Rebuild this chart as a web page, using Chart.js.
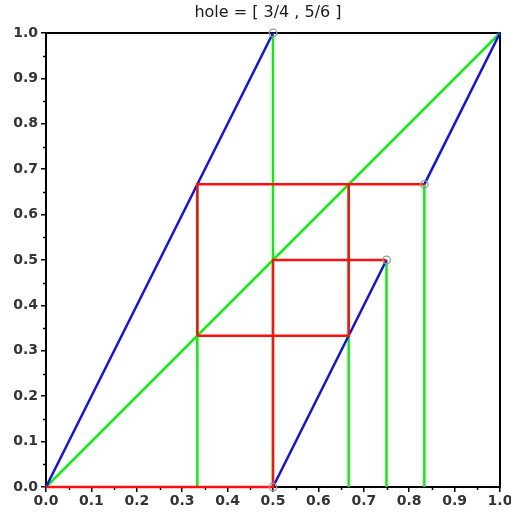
<!DOCTYPE html>
<html><head><meta charset="utf-8">
<script src="https://cdn.jsdelivr.net/npm/chart.js@4/dist/chart.umd.min.js"></script>
<style>html,body{margin:0;padding:0;background:#fff}#wrap{width:511px;height:515px}</style>
</head><body><div id="wrap"><canvas id="c" width="511" height="515"></canvas></div>
<script>
const titleText = 'hole = [ 3/4 , 5/6 ]';
const tickValues = [0,0.1,0.2,0.3,0.4,0.5,0.6,0.7,0.8,0.9,1.0];
const minorTickValues = [0.05,0.15,0.25,0.35,0.45,0.55,0.65,0.75,0.85,0.95];
// diagonal y = x
const diagX = [0, 1];
const diagY = [0, 1];
// map pieces (blue), null separates pieces
const mapX = [0, 0.5, null, 0.5, 0.75, null, 5/6, 1];
const mapY = [0, 1, null, 0, 0.5, null, 2/3, 1];
// green verticals
const vertX = [1/3, 1/2, 2/3, 3/4, 5/6];
const vertTop = [2/3, 1, 2/3, 1/2, 2/3];
// red orbit paths
const orbit1X = [0, 0.5, 0.5, 0.75];
const orbit1Y = [0, 0, 0.5, 0.5];
const orbit2X = [1/3, 1/3, 2/3, 2/3, 1/3, null, 2/3, 5/6];
const orbit2Y = [1/3, 2/3, 2/3, 1/3, 1/3, null, 2/3, 2/3];
// open endpoints
const holeX = [0.75, 5/6, 0.5, 0.5];
const holeY = [0.5, 2/3, 1, 0];

function pts(xs, ys){ return xs.map((x,i)=>({x: x===null?NaN:x, y: ys[i]===null?NaN:ys[i]})); }
const vertPts = [];
vertX.forEach((x,i)=>{ vertPts.push({x:x,y:0},{x:x,y:vertTop[i]},{x:NaN,y:NaN}); });

const lineDs = (data,color,order)=>({data, order, showLine:true, borderColor:color, backgroundColor:color, borderWidth:2.5, pointRadius:0, spanGaps:false, fill:false, clip:6});

const frame = {
  id:'frame',
  afterLayout(chart){
    const a = chart.chartArea, t = chart.titleBlock;
    if (t) { t.left = a.left - 10; t.right = a.right; }
  },
  beforeDatasetsDraw(chart){
    const ctx = chart.ctx, a = chart.chartArea;
    const xs = chart.scales.x, ys = chart.scales.y;
    ctx.save();
    ctx.strokeStyle = '#000';
    ctx.lineWidth = 1.5;
    ctx.beginPath();
    minorTickValues.forEach(v=>{
      const px = Math.round(xs.getPixelForValue(v))+0.5;
      ctx.moveTo(px, a.bottom); ctx.lineTo(px, a.bottom+3);
      const py = Math.round(ys.getPixelForValue(v))+0.5;
      ctx.moveTo(a.left, py); ctx.lineTo(a.left-3, py);
    });
    ctx.stroke();
    ctx.lineWidth = 2;
    ctx.strokeRect(a.left, a.top, a.right-a.left, a.bottom-a.top);
    ctx.restore();
  }
};

const tickFont = {family:'DejaVu Sans', size:14, weight:'bold'};
new Chart(document.getElementById('c'), {
  type:'scatter',
  data:{datasets:[
    {data: pts(holeX, holeY), order:0, showLine:false, pointRadius:3.8, pointBorderWidth:1.3, pointBorderColor:'#999', pointBackgroundColor:'rgba(255,255,255,0)', clip:6},
    lineDs(pts(orbit1X, orbit1Y), '#ff1010', 1),
    lineDs(pts(orbit2X, orbit2Y), '#ff1010', 2),
    lineDs(pts(mapX, mapY), '#1010f0', 3),
    lineDs(vertPts, '#10ee10', 4),
    lineDs(pts(diagX, diagY), '#10ee10', 5)
  ]},
  options:{
    responsive:false, animation:false, devicePixelRatio:1,
    layout:{padding:{left:0,right:11,top:0,bottom:0}},
    plugins:{
      legend:{display:false}, tooltip:{enabled:false},
      title:{display:true, text:titleText, color:'#1a1a1a', font:{family:'DejaVu Sans', size:16, weight:'normal', lineHeight:1.2}, padding:{top:3,bottom:10.8}}
    },
    scales:{
      x:{type:'linear', min:0, max:1,
        afterBuildTicks(s){ s.ticks = tickValues.map(v=>({value:v})); },
        afterFit(s){ s.height = 28; s.paddingRight = 0; s.paddingLeft = 0; },
        ticks:{font:tickFont, color:'#333', padding:1, maxRotation:0, autoSkip:false, callback:v=>v.toFixed(1)},
        grid:{drawOnChartArea:false, drawTicks:true, tickLength:5, color:'#000', lineWidth:1.5},
        border:{display:true, color:'#000', width:2}
      },
      y:{type:'linear', min:0, max:1,
        afterBuildTicks(s){ s.ticks = tickValues.map(v=>({value:v})); },
        afterFit(s){ s.width = 46; s.paddingTop = 0; s.paddingBottom = 0; },
        ticks:{font:tickFont, color:'#333', padding:3, autoSkip:false, callback:v=>v.toFixed(1)},
        grid:{drawOnChartArea:false, drawTicks:true, tickLength:5, color:'#000', lineWidth:1.5},
        border:{display:true, color:'#000', width:2}
      }
    }
  },
  plugins:[frame]
});
</script></body></html>
